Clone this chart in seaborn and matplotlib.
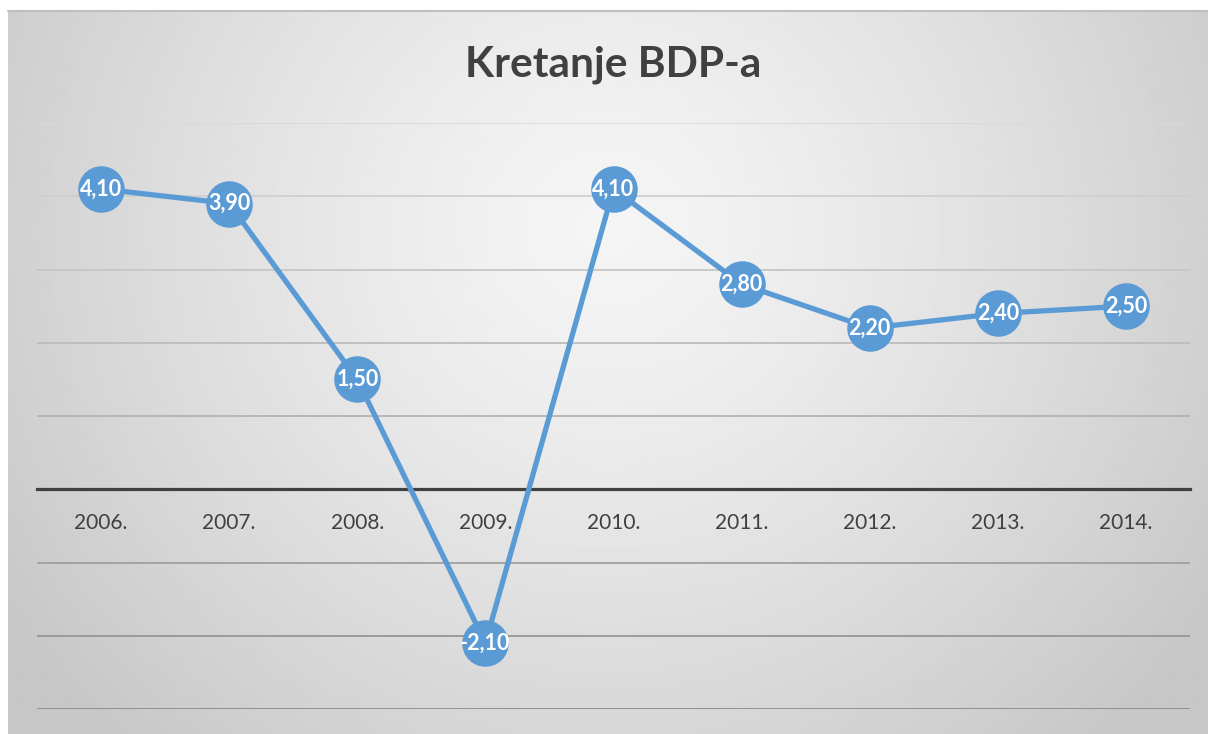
import matplotlib.pyplot as plt
import numpy as np
import pandas as pd
import seaborn as sns

# Data
years = ['2006.', '2007.', '2008.', '2009.', '2010.', '2011.', '2012.', '2013.', '2014.']
gdp = [4.10, 3.90, 1.50, -2.10, 4.10, 2.80, 2.20, 2.40, 2.50]
grid_levels = [-3, -2, -1, 1, 2, 3, 4, 5]

df = pd.DataFrame({'year': years, 'gdp': gdp})

sns.set_style('white')
plt.rcParams['font.family'] = ['Lato', 'DejaVu Sans']

fig = plt.figure(figsize=(12.08, 7.34), dpi=100)

# radial gradient background (Excel style chart area)
bg = fig.add_axes([8 / 1208, 0, 1200 / 1208, 723 / 734])
u, v = np.meshgrid(np.linspace(0, 1, 400), np.linspace(0, 1, 250))
r = np.sqrt(((u - 0.5) / 0.5) ** 2 + ((v - 0.3) / 0.8) ** 2)
shade = np.clip(0.96 - 0.14 * r ** 1.3, 0.78, 1)
bg.imshow(shade, cmap='gray', vmin=0, vmax=1, aspect='auto', extent=[0, 1, 1, 0])
bg.set_axis_off()
fig.add_artist(plt.Line2D([8 / 1208, 1], [723 / 734, 723 / 734], color='#bfbfbf', lw=1.5))

ax = fig.add_axes([37 / 1208, 25 / 734, 1153 / 1208, 586 / 734])
ax.set_facecolor('none')

# gridlines, lighter toward the top like the original
for lv in grid_levels:
    t = (lv + 3) / 8
    c = 0.55 + 0.30 * t
    ax.axhline(lv, color=(c, c, c), lw=1.3, zorder=1)

sns.lineplot(data=df, x='year', y='gdp', ax=ax, sort=False, color='#5b9bd5',
             linewidth=3.8, marker='o', markersize=33.5, markeredgewidth=0, zorder=3)

for i, val in enumerate(gdp):
    ax.text(i, val, f'{val:.2f}'.replace('.', ','), ha='center', va='center',
            color='white', fontsize=15.5, fontweight='bold', zorder=4)

ax.set_xlim(-0.5, len(years) - 0.5)
ax.set_ylim(-3, 5)
ax.set_xlabel('')
ax.set_ylabel('')
ax.set_yticks([])

for s in ['top', 'right', 'left']:
    ax.spines[s].set_visible(False)
ax.spines['bottom'].set_position(('data', 0))
ax.spines['bottom'].set_color('#404040')
ax.spines['bottom'].set_linewidth(2.3)
ax.spines['bottom'].set_zorder(2)
ax.tick_params(axis='x', length=0, pad=17, labelsize=15, labelcolor='#404040')

fig.text(613 / 1208, 1 - 65 / 734, 'Kretanje BDP-a', ha='center', va='center',
         fontsize=30.5, fontweight='bold', color='#404040')

fig.savefig('out.png', dpi=100)
